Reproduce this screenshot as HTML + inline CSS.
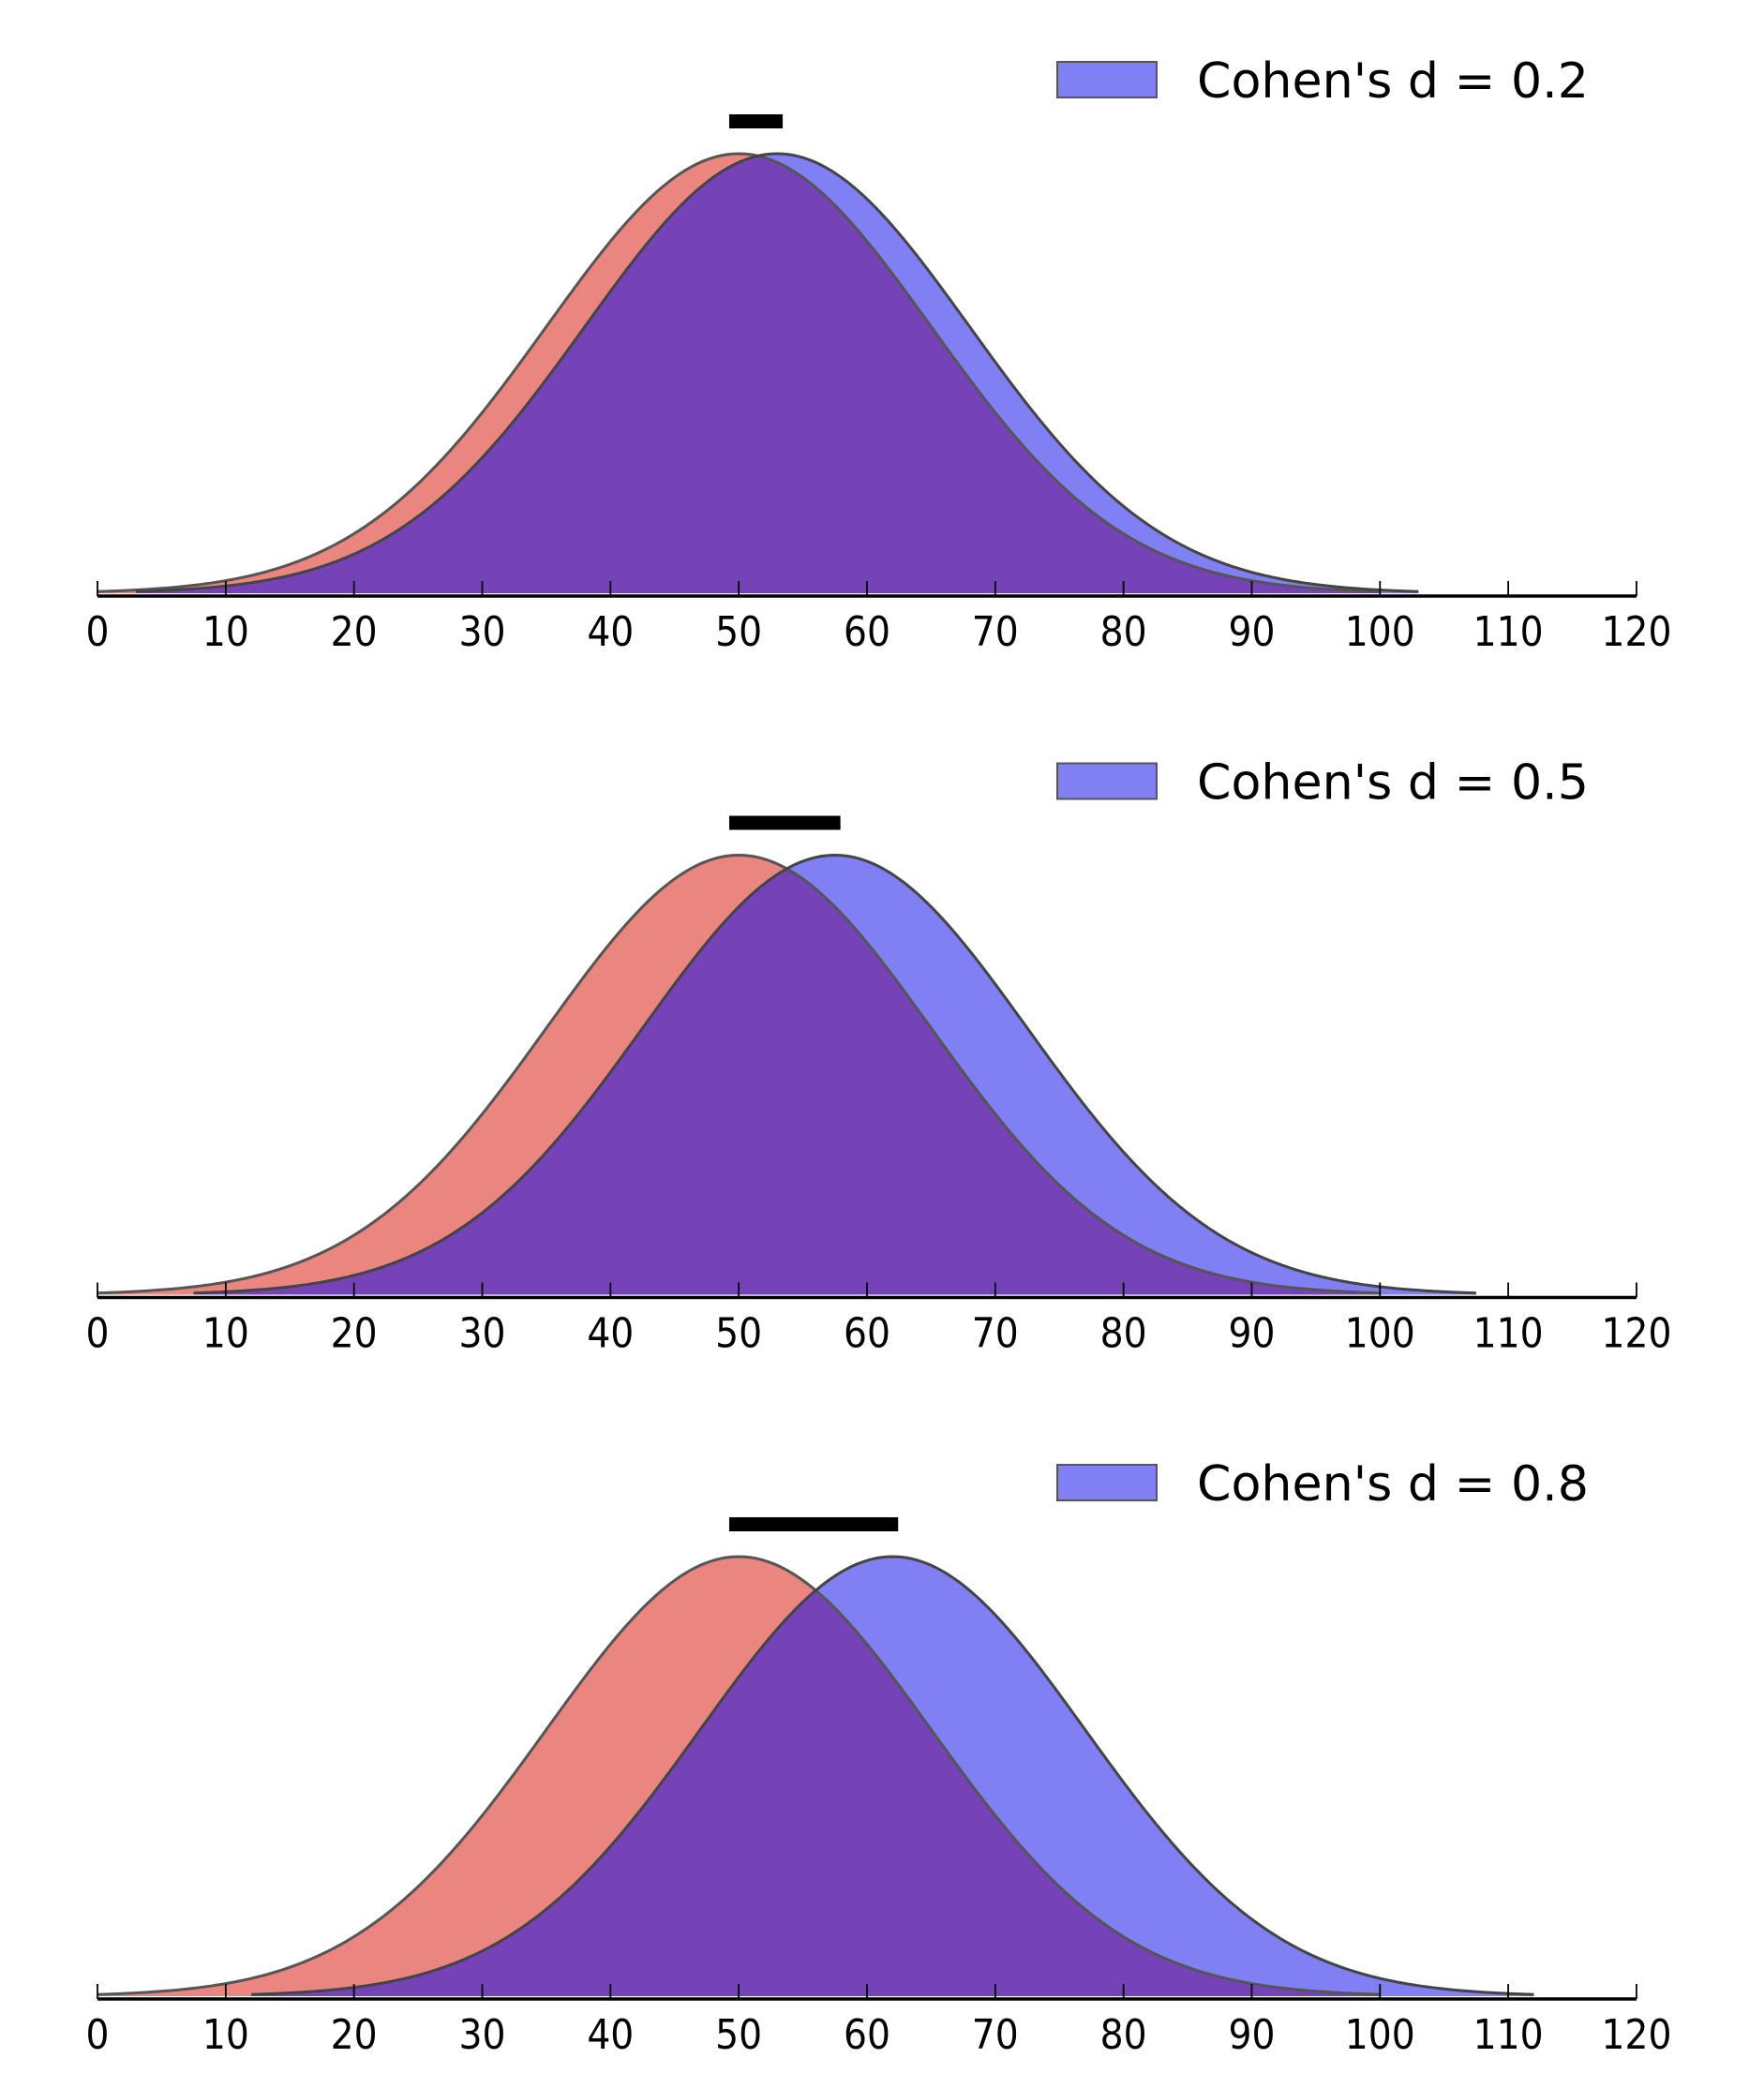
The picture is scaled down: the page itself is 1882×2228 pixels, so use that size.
<!DOCTYPE html>
<html><head><meta charset="utf-8"><style>
html,body{margin:0;padding:0;background:#fff;}
svg{display:block;}
</style></head><body>
<svg id="s" width="1882" height="2228" xmlns="http://www.w3.org/2000/svg" font-family="'DejaVu Sans','Liberation Sans',sans-serif"></svg>
<script>
var s=document.getElementById('s');
var X0=104,U=13.683,H=469,SD=15;
function px(x){return X0+x*U;}
function pdf(x,m){return Math.exp(-0.5*Math.pow((x-m)/SD,2));}
var out='';
var ds=[0.2,0.5,0.8];
for(var p=0;p<3;p++){
 var d=ds[p],off=p*748.5,base=636+off-3;
 var mb=50+d*SD;
 function path(fn,a,b,close){
  var str='';
  for(var i=0;i<=400;i++){var x=a+(b-a)*i/400;str+=(i?'L':'M')+px(x).toFixed(2)+','+(base-H*fn(x)).toFixed(2);}
  if(close)str+='L'+px(b).toFixed(2)+','+base+'L'+px(a).toFixed(2)+','+base+'Z';
  return str;
 }
 var fr=function(x){return pdf(x,50);};
 var fb=function(x){return pdf(x,mb);};
 var fm=function(x){return Math.min(fr(x),fb(x));};
 out+='<path d="'+path(fr,0,100,true)+'" fill="#ea8580"/>';
 out+='<path d="'+path(fb,mb-50,mb+50,true)+'" fill="#8080f4"/>';
 out+='<path d="'+path(fm,mb-50,100,true)+'" fill="#7642b8"/>';
 out+='<path d="'+path(fr,0,100,false)+'" fill="none" stroke="#555" stroke-width="3"/>';
 out+='<path d="'+path(fb,mb-50,mb+50,false)+'" fill="none" stroke="#444" stroke-width="3"/>';
 var ay=636+off;
 out+='<line x1="'+px(0)+'" y1="'+ay+'" x2="'+px(120)+'" y2="'+ay+'" stroke="#000" stroke-width="3.5"/>';
 for(var t=0;t<=120;t+=10){
  out+='<line x1="'+px(t)+'" y1="'+(ay-16)+'" x2="'+px(t)+'" y2="'+ay+'" stroke="#000" stroke-width="1.8"/>';
  out+='<text x="'+px(t)+'" y="'+(ay+53)+'" font-size="44" text-anchor="middle" textLength="'+(String(t).length*25)+'" lengthAdjust="spacingAndGlyphs">'+t+'</text>';
 }
 out+='<rect x="778" y="'+(122+off)+'" width="'+(d*SD*U+16)+'" height="15" fill="#000"/>';
 out+='<rect x="1128" y="'+(66+off)+'" width="106" height="38" fill="#8080f4" stroke="#555" stroke-width="2"/>';
 out+='<text x="1277" y="'+(104+off)+'" font-size="52" textLength="418" lengthAdjust="spacingAndGlyphs">Cohen\'s d = '+d+'</text>';
}
s.innerHTML=out;
</script>
</body></html>
